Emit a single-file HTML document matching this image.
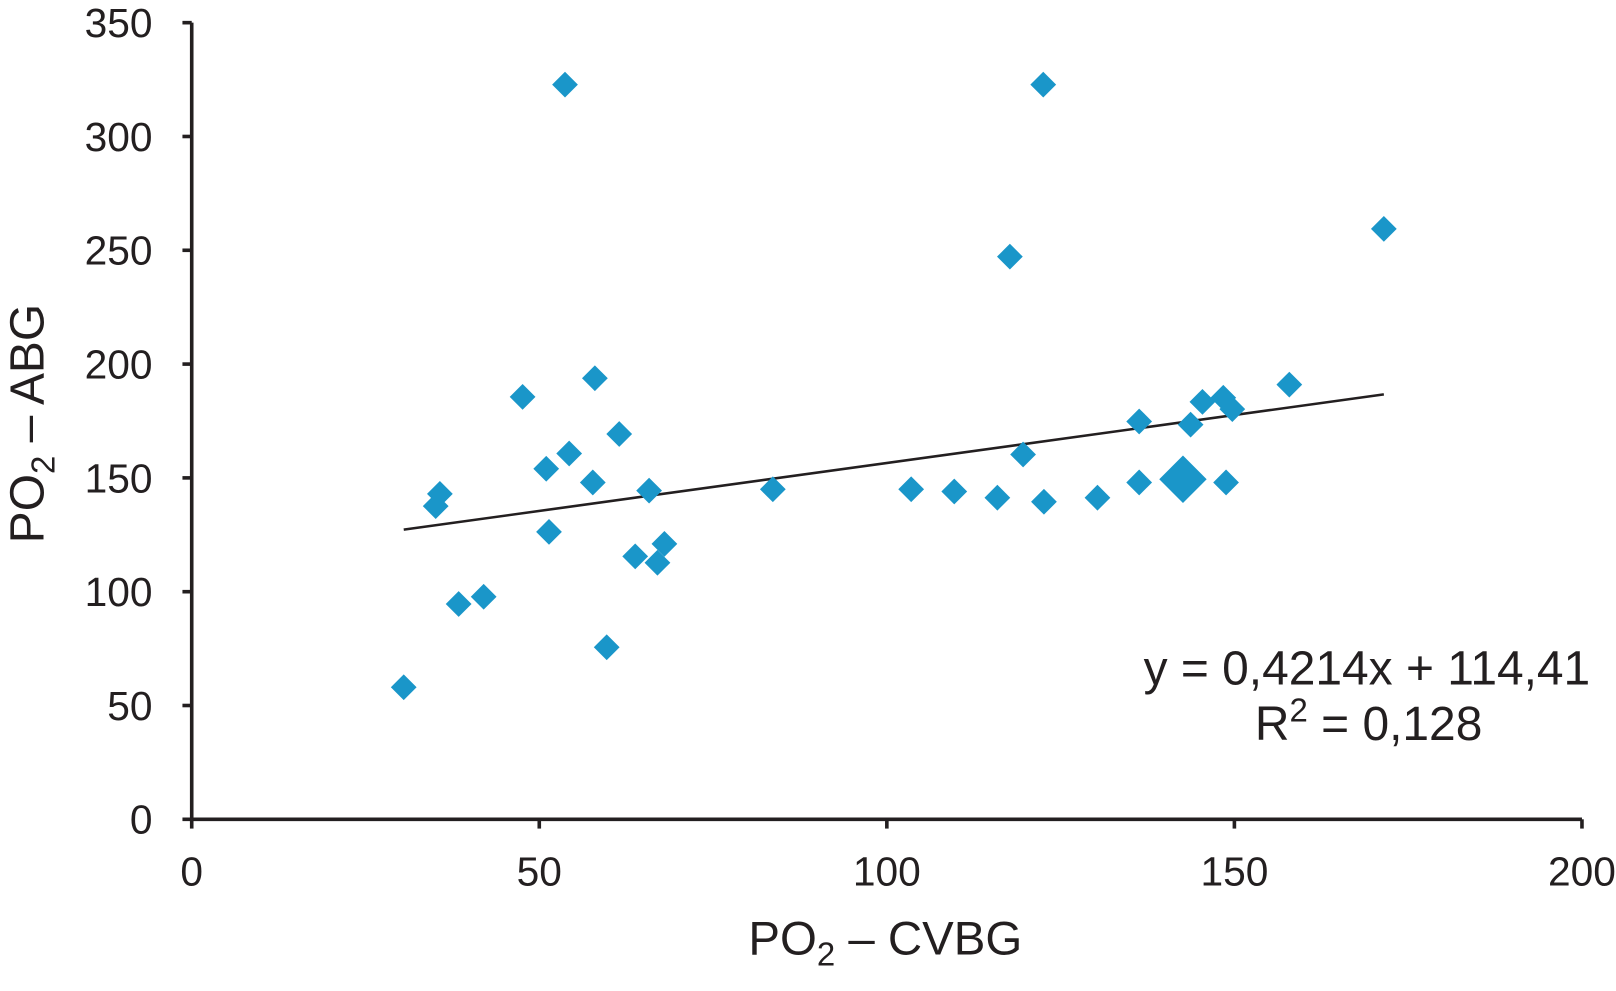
<!DOCTYPE html>
<html><head><meta charset="utf-8"><style>
html,body{margin:0;padding:0;background:#fff;}
svg{display:block;}
text{font-family:"Liberation Sans",Arial,sans-serif;fill:#231f20;}
</style></head><body>
<svg id="chart" width="1616" height="991" viewBox="0 0 1568 961.6" xmlns="http://www.w3.org/2000/svg">
<g id="axes"></g>
<g id="marks"></g>
<text transform="translate(42,411) rotate(-90)" text-anchor="middle" font-size="46.5">PO<tspan font-size="32" dy="11">2</tspan><tspan dy="-11"> – ABG</tspan></text>
<text x="859" y="926" text-anchor="middle" font-size="46">PO<tspan font-size="32" dy="11">2</tspan><tspan dy="-11"> – CVBG</tspan></text>
<text x="1543" y="664" text-anchor="end" font-size="46.5">y = 0,4214x + 114,41</text>
<text x="1328" y="718" text-anchor="middle" font-size="46.5">R<tspan font-size="32" dy="-18">2</tspan><tspan dy="18"> = 0,128</tspan></text>
</svg>
<script>
const xTicks=[0,50,100,150,200];
const yTicks=[0,50,100,150,200,250,300,350];
const xVals=[30.5,35.1,35.7,38.4,42,47.6,51,51.4,53.7,54.3,57.7,58,59.7,61.5,63.8,65.8,67,68,83.6,103.5,109.7,115.9,117.7,119.6,122.5,122.6,130.3,136.3,136.3,142.6,143.7,145.4,148.4,148.8,149.7,157.9,171.5];
const yVals=[58,137.6,143,94.6,97.8,185.6,154,126.3,322.8,160.7,148,193.8,75.6,169.3,115.5,144.4,112.7,121,145,145,144,141.3,247.2,160.3,322.8,139.5,141.3,174.8,148,149.4,173.4,183.4,185.2,148,180.2,191,259.4];
const bigPoint=[0,0,0,0,0,0,0,0,0,0,0,0,0,0,0,0,0,0,0,0,0,0,0,0,0,0,0,0,0,1,0,0,0,0,0,0,0];
const slope=0.4214, intercept=114.41;
const NS="http://www.w3.org/2000/svg";
const X0=186,X1=1535,Y0=795,Y1=22;
const sx=v=>X0+(v-0)/200*(X1-X0);
const sy=v=>Y0-(v-0)/350*(Y0-Y1);
function mk(tag,attrs,parent){const e=document.createElementNS(NS,tag);for(const k in attrs)e.setAttribute(k,attrs[k]);parent.appendChild(e);return e;}
const axes=document.getElementById('axes'),marks=document.getElementById('marks');
let e=mk('line',{x1:X0,y1:Y1,x2:X0,y2:Y0,stroke:'#231f20','stroke-width':3.5},axes);


e=mk('line',{x1:X0,y1:Y0,x2:X1,y2:Y0,stroke:'#231f20','stroke-width':3.5},axes);


yTicks.forEach(t=>{
 let l=mk('line',{x1:X0-9,y1:sy(t),x2:X0,y2:sy(t),stroke:'#231f20','stroke-width':3.5},axes);
 
 
 let tx=mk('text',{x:148,y:sy(t)+14,'text-anchor':'end','font-size':39.5},axes);tx.textContent=t;
 
 
});
xTicks.forEach(t=>{
 let l=mk('line',{x1:sx(t),y1:Y0,x2:sx(t),y2:Y0+9,stroke:'#231f20','stroke-width':3.5},axes);
 
 
 let tx=mk('text',{x:sx(t),y:859,'text-anchor':'middle','font-size':39.5},axes);tx.textContent=t;
 
 
});
const xmin=Math.min(...xVals),xmax=Math.max(...xVals);
e=mk('line',{x1:sx(xmin),y1:sy(slope*xmin+intercept),x2:sx(xmax),y2:sy(slope*xmax+intercept),stroke:'#231f20','stroke-width':2.5},marks);


xVals.forEach((v,i)=>{
 const cx=sx(v),cy=sy(yVals[i]),r=bigPoint[i]?23:12.5;
 const p=mk('polygon',{points:`${cx},${cy-r} ${cx+r},${cy} ${cx},${cy+r} ${cx-r},${cy}`,fill:'#1a96c9'},marks);
 
 
});
</script>
</body></html>
